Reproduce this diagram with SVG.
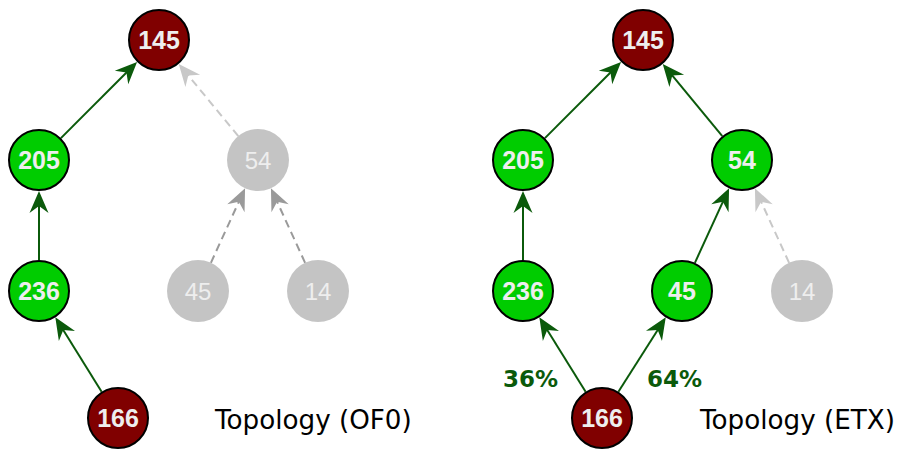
<svg xmlns="http://www.w3.org/2000/svg" width="899" height="450" viewBox="0 0 899 450">
<defs>
<style>
.red{fill:#800000;stroke:#000;stroke-width:2}
.grn{fill:#00cc00;stroke:#000;stroke-width:2}
.gry{fill:#c4c4c4}
.t{font-family:"Liberation Sans",Arial,sans-serif;font-weight:bold;font-size:25px;fill:#eeeeee;text-anchor:middle}
.tg{font-family:"Liberation Sans",Arial,sans-serif;font-size:24px;fill:#eeeeee;text-anchor:middle}
.e{stroke:#0b5a0b;stroke-width:2;fill:none;marker-end:url(#ag)}
.d1{stroke:#9a9a9a;stroke-width:2;fill:none;stroke-dasharray:8 5;marker-end:url(#ad)}
.d2{stroke:#c8c8c8;stroke-width:2;fill:none;stroke-dasharray:8 5;marker-end:url(#al)}
.pct{font-family:"DejaVu Sans",Verdana,sans-serif;font-weight:bold;font-size:23px;fill:#0b5a0b}
.cap{font-family:"DejaVu Sans",Verdana,sans-serif;font-size:26.2px;fill:#000}
</style>
<marker id="ag" markerUnits="userSpaceOnUse" orient="auto" refX="0" refY="0" markerWidth="30" markerHeight="30" overflow="visible"><path d="M10,0 L-12,-9.5 L-5,0 L-12,9.5 Z" fill="#0b5a0b"/></marker>
<marker id="ad" markerUnits="userSpaceOnUse" orient="auto" refX="0" refY="0" markerWidth="30" markerHeight="30" overflow="visible"><path d="M10,0 L-12,-9.5 L-5,0 L-12,9.5 Z" fill="#9a9a9a"/></marker>
<marker id="al" markerUnits="userSpaceOnUse" orient="auto" refX="0" refY="0" markerWidth="30" markerHeight="30" overflow="visible"><path d="M10,0 L-12,-9.5 L-5,0 L-12,9.5 Z" fill="#c8c8c8"/></marker>
</defs>
<rect width="899" height="450" fill="#fff"/>
<g id="connectors">
<line class="e" x1="60.9" y1="138.1" x2="130" y2="69"/>
<line class="e" x1="39" y1="260" x2="39" y2="201"/>
<line class="e" x1="101.6" y1="391.7" x2="60.6" y2="325.8"/>
<line class="d2" x1="238.3" y1="136.1" x2="185.1" y2="71.6"/>
<line class="d1" x1="210.9" y1="262.8" x2="240.9" y2="197.3"/>
<line class="d1" x1="305.1" y1="262.8" x2="275.1" y2="197.3"/>
<line class="e" x1="544.9" y1="138.1" x2="614" y2="69"/>
<line class="e" x1="523" y1="260" x2="523" y2="201"/>
<line class="e" x1="585.6" y1="391.7" x2="544.6" y2="325.8"/>
<line class="e" x1="722.3" y1="136.1" x2="669.1" y2="71.6"/>
<line class="e" x1="618.4" y1="391.7" x2="660.4" y2="325.8"/>
<line class="e" x1="694.9" y1="262.8" x2="724.9" y2="197.3"/>
<line class="d2" x1="789.1" y1="262.8" x2="759.1" y2="197.3"/>
</g>
<g id="L145"><circle class="red" cx="159" cy="40" r="30"/><text class="t" x="159" y="49">145</text></g>
<g id="L205"><circle class="grn" cx="39" cy="160" r="30"/><text class="t" x="39" y="169">205</text></g>
<g id="L236"><circle class="grn" cx="39" cy="291" r="30"/><text class="t" x="39" y="300">236</text></g>
<g id="L166"><circle class="red" cx="118" cy="418" r="30"/><text class="t" x="118" y="427">166</text></g>
<g id="L54"><circle class="gry" cx="258" cy="160" r="31"/><text class="tg" x="258" y="169">54</text></g>
<g id="L45"><circle class="gry" cx="198" cy="291" r="31"/><text class="tg" x="198" y="300">45</text></g>
<g id="L14"><circle class="gry" cx="318" cy="291" r="31"/><text class="tg" x="318" y="300">14</text></g>
<g id="R145"><circle class="red" cx="643" cy="40" r="30"/><text class="t" x="643" y="49">145</text></g>
<g id="R205"><circle class="grn" cx="523" cy="160" r="30"/><text class="t" x="523" y="169">205</text></g>
<g id="R236"><circle class="grn" cx="523" cy="291" r="30"/><text class="t" x="523" y="300">236</text></g>
<g id="R166"><circle class="red" cx="602" cy="418" r="30"/><text class="t" x="602" y="427">166</text></g>
<g id="R54"><circle class="grn" cx="742" cy="160" r="30"/><text class="t" x="742" y="169">54</text></g>
<g id="R45"><circle class="grn" cx="682" cy="291" r="30"/><text class="t" x="682" y="300">45</text></g>
<g id="R14"><circle class="gry" cx="802" cy="291" r="31"/><text class="tg" x="802" y="300">14</text></g>
<text class="pct" x="503" y="387">36%</text>
<text class="pct" x="647" y="387">64%</text>
<text class="cap" x="215" y="429">Topology (OF0)</text>
<text class="cap" x="700" y="429">Topology (ETX)</text>
</svg>
